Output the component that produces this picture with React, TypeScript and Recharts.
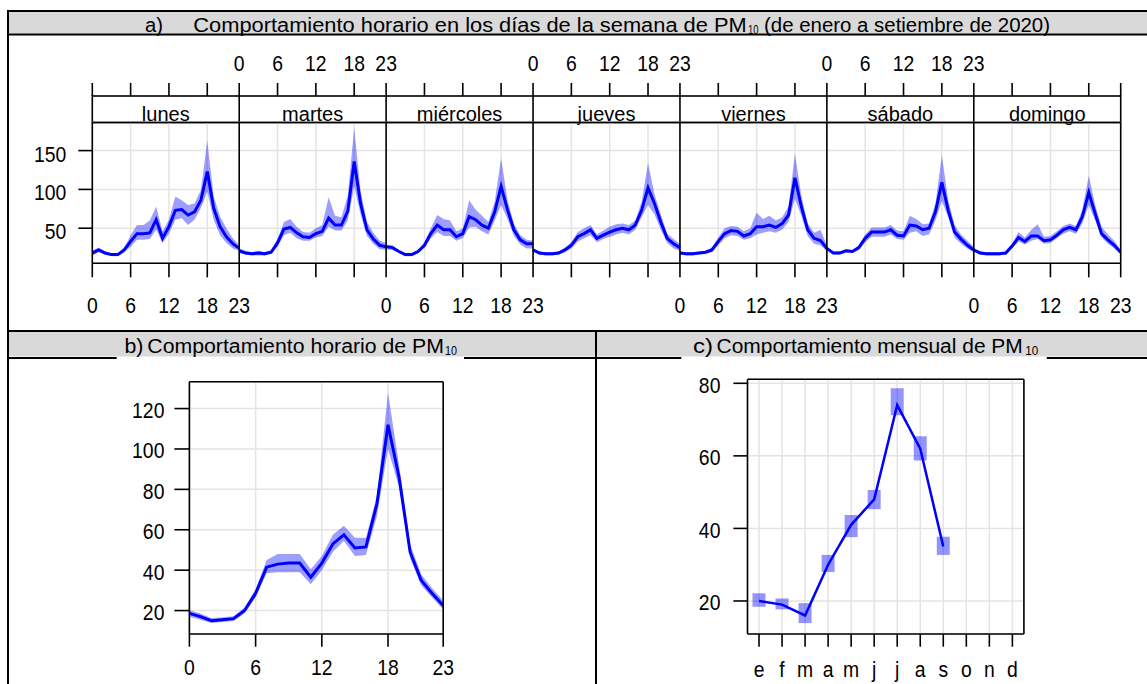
import React from 'react'
import {
  ComposedChart,
  Line,
  Area,
  Bar,
  XAxis,
  YAxis,
  CartesianGrid,
  ReferenceLine,
} from 'recharts'

// PM10 por hora (0-23) para cada día de la semana: media e intervalo de confianza
const DIAS = ['lunes', 'martes', 'miércoles', 'jueves', 'viernes', 'sábado', 'domingo']

const lunesMedia = [18, 22, 18, 16, 16, 22, 33, 43, 43, 44, 61, 37, 52, 73, 74, 67, 71, 86, 123, 76, 52, 39, 30, 24]
const lunesBajo = [15, 19, 16, 14, 14, 19, 26, 35, 35, 36, 48, 31, 43, 61, 63, 54, 61, 76, 97, 61, 41, 31, 24, 21]
const lunesAlto = [21, 25, 20, 18, 18, 25, 41, 54, 54, 60, 78, 46, 61, 91, 86, 80, 82, 99, 163, 91, 65, 50, 37, 28]

const martesMedia = [21, 18, 17, 18, 17, 19, 31, 49, 51, 44, 39, 38, 43, 46, 63, 54, 54, 72, 136, 82, 48, 36, 28, 26]
const martesBajo = [18, 16, 15, 15, 15, 17, 26, 41, 44, 37, 34, 34, 38, 40, 52, 47, 47, 60, 104, 68, 40, 30, 23, 22]
const martesAlto = [24, 21, 19, 21, 19, 22, 36, 58, 62, 52, 45, 44, 50, 54, 90, 66, 64, 92, 179, 98, 58, 44, 34, 31]

const miercolesMedia = [26, 25, 20, 16, 16, 20, 28, 43, 54, 48, 48, 39, 43, 65, 61, 54, 50, 71, 104, 74, 48, 35, 30, 30]
const miercolesBajo = [23, 22, 18, 14, 14, 18, 25, 37, 45, 40, 40, 34, 37, 51, 52, 46, 42, 60, 80, 62, 40, 29, 24, 24]
const miercolesAlto = [29, 28, 22, 18, 18, 22, 32, 50, 67, 62, 60, 46, 50, 86, 74, 66, 58, 84, 140, 86, 56, 41, 35, 34]

const juevesMedia = [22, 18, 17, 17, 18, 22, 28, 39, 43, 48, 37, 41, 45, 48, 50, 48, 54, 73, 102, 82, 58, 37, 30, 25]
const juevesBajo = [20, 16, 15, 15, 16, 19, 24, 33, 37, 41, 32, 36, 39, 42, 44, 42, 48, 64, 80, 68, 48, 31, 24, 21]
const juevesAlto = [24, 20, 19, 19, 20, 25, 32, 45, 50, 54, 42, 47, 52, 55, 56, 54, 60, 84, 134, 94, 68, 43, 36, 30]

const viernesMedia = [18, 17, 17, 18, 19, 22, 33, 43, 47, 46, 40, 43, 52, 52, 54, 51, 56, 67, 115, 78, 48, 37, 34, 24]
const viernesBajo = [16, 15, 15, 16, 17, 19, 28, 37, 41, 40, 35, 37, 42, 44, 46, 44, 48, 58, 88, 66, 40, 30, 28, 20]
const viernesAlto = [20, 19, 19, 20, 21, 25, 38, 50, 53, 52, 46, 50, 70, 62, 66, 60, 64, 78, 146, 92, 56, 44, 48, 28]

const sabadoMedia = [24, 18, 18, 21, 20, 25, 37, 45, 45, 45, 48, 41, 40, 54, 53, 48, 50, 71, 109, 73, 45, 36, 28, 22]
const sabadoBajo = [22, 16, 16, 19, 18, 22, 32, 39, 39, 39, 42, 36, 35, 44, 46, 40, 42, 60, 85, 64, 38, 30, 24, 19]
const sabadoAlto = [26, 20, 20, 23, 22, 28, 42, 51, 51, 51, 54, 47, 46, 66, 62, 55, 56, 82, 144, 86, 54, 42, 34, 26]

const domingoMedia = [22, 18, 17, 17, 17, 18, 27, 38, 33, 40, 40, 34, 35, 41, 48, 51, 48, 65, 96, 69, 43, 35, 28, 19]
const domingoBajo = [20, 16, 15, 15, 15, 16, 24, 33, 29, 34, 36, 30, 31, 37, 43, 46, 43, 56, 80, 60, 38, 30, 24, 16]
const domingoAlto = [24, 20, 19, 19, 19, 20, 30, 45, 38, 48, 55, 39, 40, 46, 53, 56, 53, 74, 118, 80, 52, 42, 34, 22]

// promedio horario de todo el periodo
const horarioMedia = [18.6, 17, 15, 15.5, 16, 20, 28.5, 41.5, 43, 43.5, 43.5, 36.5, 43.5, 53, 57.5, 51, 51.5, 73, 112, 86, 49, 35, 28.5, 22.5]
const horarioBajo = [17, 15.5, 13.8, 14.3, 14.8, 18.5, 26.5, 38.5, 39, 39, 39, 33, 40, 49, 54.5, 47, 47.5, 67, 100, 81, 46, 32.5, 26.5, 20.5]
const horarioAlto = [20.2, 18.5, 16.2, 16.7, 17.2, 21.5, 30.5, 45, 48, 48, 48, 40.5, 47, 57.5, 62, 56, 56, 77, 128, 92, 53, 38, 31, 25]

// promedio mensual (enero a setiembre)
const MESES = ['ene', 'feb', 'mar', 'abr', 'may', 'jun', 'jul', 'ago', 'set', 'oct', 'nov', 'dic']
const MESES_ETIQ = ['e', 'f', 'm', 'a', 'm', 'j', 'j', 'a', 's', 'o', 'n', 'd']
const mensualMedia = [20, 19, 16, 30, 41, 48, 74, 62, 35]
const mensualBajo = [18.4, 17.7, 13.9, 28, 37.6, 45.3, 71.2, 58.7, 32.7]
const mensualAlto = [22.1, 20.7, 19.4, 32.7, 43.7, 50.6, 78.6, 65.4, 37.7]

const HORAS_TICKS = [0, 6, 12, 18, 23]
const TICKS_SEMANA_Y = [50, 100, 150]
const TICKS_HORARIO_Y = [20, 40, 60, 80, 100, 120]
const TICKS_MENSUAL_Y = [20, 40, 60, 80]

const SERIES_DIA = [
  { media: lunesMedia, bajo: lunesBajo, alto: lunesAlto },
  { media: martesMedia, bajo: martesBajo, alto: martesAlto },
  { media: miercolesMedia, bajo: miercolesBajo, alto: miercolesAlto },
  { media: juevesMedia, bajo: juevesBajo, alto: juevesAlto },
  { media: viernesMedia, bajo: viernesBajo, alto: viernesAlto },
  { media: sabadoMedia, bajo: sabadoBajo, alto: sabadoAlto },
  { media: domingoMedia, bajo: domingoBajo, alto: domingoAlto },
]

// los paneles comparten borde: la hora 23 de un día cae en la hora 0 del siguiente
const LARGO = 23
const FIN_SEMANA = DIAS.length * LARGO

const filasSemana: Record<string, any>[] = Array.from({ length: FIN_SEMANA + 1 }, (_, x) => ({ x }))
SERIES_DIA.forEach((s, d) => {
  s.media.forEach((m, h) => {
    const fila = filasSemana[d * LARGO + h]
    fila[`m${d}`] = m
    fila[`ic${d}`] = [s.bajo[h], s.alto[h]]
  })
})

const ticksSemana = Array.from(new Set(DIAS.flatMap((_, d) => HORAS_TICKS.map((t) => d * LARGO + t))))
const divisiones = DIAS.slice(1).map((_, i) => (i + 1) * LARGO)

const filasHorario = horarioMedia.map((m, h) => ({ h, media: m, ic: [horarioBajo[h], horarioAlto[h]] }))

const filasMensual = MESES.map((mes, i) => ({
  mes,
  media: i < mensualMedia.length ? mensualMedia[i] : null,
  ic: i < mensualMedia.length ? [mensualBajo[i], mensualAlto[i]] : null,
}))

const AZUL = '#0000ff'
const FUENTE = { fontFamily: "'Liberation Sans', Arial, Helvetica, sans-serif", fill: '#000' }
const LINEA_EJE = { stroke: '#000', strokeWidth: 1.6 }
const LINEA_TICK = { stroke: '#000', strokeWidth: 1.6 }
const GRIS_GRILLA = '#e4e4e4'

// geometría del panel a
const A_IZQ = 92.3
const A_DER = 1120.7
const A_ARRIBA = 122.5
const A_ABAJO = 263.3
const TIRA_ARRIBA = 96

// números de los ejes: algo más altos y angostos que el texto normal
const Numero = ({ x, y, anchor, children }: { x: number; y: number; anchor: 'start' | 'middle' | 'end'; children: any }) => (
  <text transform={`translate(${x},${y}) scale(0.88,1)`} textAnchor={anchor} fontSize={22} {...FUENTE}>
    {children}
  </text>
)

const horaDeDia = (v: number, dias: number[]) => {
  for (const d of dias) if (v >= d * LARGO && v <= d * LARGO + LARGO) return String(v - d * LARGO)
  return null
}

const TickSemanaAbajo = (p: any) => {
  const txt = horaDeDia(p.payload.value, [0, 2, 4, 6])
  if (txt === null) return <g />
  return (
    <Numero x={p.x} y={313} anchor="middle">
      {txt}
    </Numero>
  )
}

const TickSemanaArriba = (p: any) => {
  const txt = horaDeDia(p.payload.value, [1, 3, 5])
  return (
    <g>
      <line x1={p.x} x2={p.x} y1={TIRA_ARRIBA - 13} y2={TIRA_ARRIBA} {...LINEA_TICK} />
      {txt !== null && (
        <Numero x={p.x} y={70.5} anchor="middle">
          {txt}
        </Numero>
      )}
    </g>
  )
}

const tickY = (dy: number) => (p: any) => (
  <Numero x={p.x} y={p.y + dy} anchor="end">
    {p.payload.value}
  </Numero>
)

const tickAbajo = (base: number, fmt: (v: any) => string) => (p: any) => (
  <Numero x={p.x} y={base} anchor="middle">
    {fmt(p.payload.value)}
  </Numero>
)

const Titulo = ({ x, y, partes }: { x: number; y: number; partes: [string, number, number, number?][] }) => (
  <g>
    {partes.map(([txt, dx, largo, tam], i) => (
      <text
        key={i}
        x={x + dx}
        y={tam ? y + 2 : y}
        fontSize={tam ?? 20}
        textLength={largo}
        lengthAdjust="spacingAndGlyphs"
        {...FUENTE}
      >
        {txt}
      </text>
    ))}
  </g>
)

// marco tipo tabla, encabezados grises y tiras de los días
const Marco = () => {
  const ancho = (A_DER - A_IZQ) / DIAS.length
  return (
    <svg width={1147} height={684} style={{ position: 'absolute', left: 0, top: 0 }}>
      <rect x={9} y={12} width={1140} height={21.5} fill="#d9d9d9" />
      <rect x={9} y={332} width={1140} height={24.5} fill="#d9d9d9" />
      <line x1={7} x2={1147} y1={11} y2={11} stroke="#000" strokeWidth={2} />
      <line x1={7} x2={1147} y1={34.5} y2={34.5} stroke="#000" strokeWidth={2} />
      <line x1={7} x2={1147} y1={331} y2={331} stroke="#000" strokeWidth={2} />
      <line x1={8} x2={116.7} y1={358} y2={358} stroke="#000" strokeWidth={2} />
      <line x1={464} x2={596} y1={358} y2={358} stroke="#000" strokeWidth={2} />
      <line x1={596} x2={681.3} y1={358} y2={358} stroke="#000" strokeWidth={2} />
      <line x1={1046.8} x2={1147} y1={358} y2={358} stroke="#000" strokeWidth={2} />
      <line x1={8} x2={8} y1={10} y2={684} stroke="#000" strokeWidth={2} />
      <line x1={596} x2={596} y1={330} y2={684} stroke="#000" strokeWidth={2} />

      <Titulo
        x={145}
        y={31.5}
        partes={[
          ['a)', 0, 18],
          ['Comportamiento horario en los días de la semana de PM', 48.3, 553.4],
          ['10', 603, 10.5, 12],
          ['(de enero a setiembre de 2020)', 619, 286],
        ]}
      />
      <Titulo
        x={124.4}
        y={353}
        partes={[
          ['b)', 0, 19],
          ['Comportamiento horario de PM', 22.9, 296.7],
          ['10', 320.6, 12, 12],
        ]}
      />
      <Titulo
        x={692.9}
        y={353}
        partes={[
          ['c)', 0, 20],
          ['Comportamiento mensual de PM', 23.6, 306.3],
          ['10', 332.4, 13, 12],
        ]}
      />

      <rect
        x={A_IZQ}
        y={TIRA_ARRIBA}
        width={A_DER - A_IZQ}
        height={A_ARRIBA - TIRA_ARRIBA}
        fill="#fff"
        stroke="#000"
        strokeWidth={1.6}
      />
      {DIAS.map((dia, d) => (
        <g key={dia}>
          {d > 0 && (
            <line
              x1={A_IZQ + d * ancho}
              x2={A_IZQ + d * ancho}
              y1={TIRA_ARRIBA}
              y2={A_ARRIBA}
              stroke="#000"
              strokeWidth={1.6}
            />
          )}
          <text x={A_IZQ + (d + 0.5) * ancho} y={120.5} textAnchor="middle" fontSize={20} {...FUENTE}>
            {dia}
          </text>
        </g>
      ))}
    </svg>
  )
}

const PanelSemana = () => (
  <div style={{ position: 'absolute', left: 0, top: 0 }}>
    <ComposedChart
      width={1147}
      height={330}
      data={filasSemana}
      margin={{ top: A_ARRIBA - 30, right: 1147 - A_DER - 20, bottom: 330 - A_ABAJO - 30, left: A_IZQ - 60 }}
    >
      <CartesianGrid xAxisId="abajo" yAxisId="izq" stroke={GRIS_GRILLA} strokeWidth={1.5} />
      <XAxis
        xAxisId="abajo"
        dataKey="x"
        type="number"
        domain={[0, FIN_SEMANA]}
        ticks={ticksSemana}
        interval={0}
        allowDataOverflow
        tickSize={14}
        tickLine={LINEA_TICK}
        axisLine={LINEA_EJE}
        tick={TickSemanaAbajo}
      />
      <XAxis
        xAxisId="arriba"
        orientation="top"
        dataKey="x"
        type="number"
        domain={[0, FIN_SEMANA]}
        ticks={ticksSemana}
        interval={0}
        allowDataOverflow
        tickLine={false}
        axisLine={LINEA_EJE}
        tick={TickSemanaArriba}
      />
      <YAxis
        yAxisId="izq"
        domain={[4.8, 186.2]}
        ticks={TICKS_SEMANA_Y}
        interval={0}
        allowDataOverflow
        tickSize={14}
        tickMargin={12}
        tickLine={LINEA_TICK}
        axisLine={LINEA_EJE}
        tick={tickY(11)}
      />
      <YAxis
        yAxisId="der"
        orientation="right"
        width={20}
        domain={[4.8, 186.2]}
        ticks={TICKS_SEMANA_Y}
        interval={0}
        allowDataOverflow
        tickSize={12.5}
        tickLine={LINEA_TICK}
        axisLine={LINEA_EJE}
        tick={false}
      />
      {DIAS.map((dia, d) => (
        <Area
          key={`ic-${dia}`}
          xAxisId="abajo"
          yAxisId="izq"
          dataKey={`ic${d}`}
          type="linear"
          stroke="none"
          fill={AZUL}
          fillOpacity={0.38}
          isAnimationActive={false}
        />
      ))}
      {DIAS.map((dia, d) => (
        <Line
          key={`m-${dia}`}
          xAxisId="abajo"
          yAxisId="izq"
          dataKey={`m${d}`}
          type="linear"
          stroke={AZUL}
          strokeWidth={3}
          dot={false}
          activeDot={false}
          isAnimationActive={false}
        />
      ))}
      {divisiones.map((x) => (
        <ReferenceLine key={x} xAxisId="abajo" yAxisId="izq" x={x} stroke="#000" strokeWidth={1.6} />
      ))}
    </ComposedChart>
  </div>
)

const PanelHorario = () => (
  <div style={{ position: 'absolute', left: 0, top: 330 }}>
    <ComposedChart
      width={595}
      height={354}
      data={filasHorario}
      margin={{ top: 21.7, right: 131.8, bottom: 20, left: 129.4 }}
    >
      <CartesianGrid xAxisId="abajo" yAxisId="izq" stroke={GRIS_GRILLA} strokeWidth={1.5} />
      <XAxis
        xAxisId="abajo"
        dataKey="h"
        type="number"
        domain={[0, 23]}
        ticks={HORAS_TICKS}
        interval={0}
        allowDataOverflow
        tickSize={12.7}
        tickLine={LINEA_TICK}
        axisLine={LINEA_EJE}
        tick={tickAbajo(345, String)}
      />
      <XAxis
        xAxisId="arriba"
        orientation="top"
        dataKey="h"
        type="number"
        domain={[0, 23]}
        ticks={HORAS_TICKS}
        interval={0}
        allowDataOverflow
        tickSize={12.4}
        tickLine={LINEA_TICK}
        axisLine={LINEA_EJE}
        tick={false}
      />
      <YAxis
        yAxisId="izq"
        domain={[8.4, 133.3]}
        ticks={TICKS_HORARIO_Y}
        interval={0}
        allowDataOverflow
        tickSize={15}
        tickMargin={10}
        tickLine={LINEA_TICK}
        axisLine={LINEA_EJE}
        tick={tickY(9.5)}
      />
      <YAxis
        yAxisId="der"
        orientation="right"
        width={20}
        domain={[8.4, 133.3]}
        ticks={TICKS_HORARIO_Y}
        interval={0}
        allowDataOverflow
        tickSize={12}
        tickLine={LINEA_TICK}
        axisLine={LINEA_EJE}
        tick={false}
      />
      <Area
        xAxisId="abajo"
        yAxisId="izq"
        dataKey="ic"
        type="linear"
        stroke="none"
        fill={AZUL}
        fillOpacity={0.38}
        isAnimationActive={false}
      />
      <Line
        xAxisId="abajo"
        yAxisId="izq"
        dataKey="media"
        type="linear"
        stroke={AZUL}
        strokeWidth={3}
        dot={false}
        activeDot={false}
        isAnimationActive={false}
      />
    </ComposedChart>
  </div>
)

const PanelMensual = () => (
  <div style={{ position: 'absolute', left: 596, top: 330 }}>
    <ComposedChart
      width={551}
      height={354}
      data={filasMensual}
      margin={{ top: 19.3, right: 103.1, bottom: 20, left: 91.5 }}
    >
      <CartesianGrid xAxisId="abajo" yAxisId="izq" stroke={GRIS_GRILLA} strokeWidth={1.5} />
      <XAxis
        xAxisId="abajo"
        dataKey="mes"
        type="category"
        interval={0}
        tickSize={12.7}
        tickLine={LINEA_TICK}
        axisLine={LINEA_EJE}
        tick={tickAbajo(346.5, (v) => MESES_ETIQ[MESES.indexOf(v)])}
      />
      <XAxis
        xAxisId="arriba"
        orientation="top"
        dataKey="mes"
        type="category"
        interval={0}
        tickSize={14.3}
        tickLine={LINEA_TICK}
        axisLine={LINEA_EJE}
        tick={false}
      />
      <YAxis
        yAxisId="izq"
        domain={[10.9, 81.1]}
        ticks={TICKS_MENSUAL_Y}
        interval={0}
        allowDataOverflow
        tickSize={14.1}
        tickMargin={13}
        tickLine={LINEA_TICK}
        axisLine={LINEA_EJE}
        tick={tickY(9.5)}
      />
      <YAxis
        yAxisId="der"
        orientation="right"
        width={20}
        domain={[10.9, 81.1]}
        ticks={TICKS_MENSUAL_Y}
        interval={0}
        allowDataOverflow
        tickSize={12.3}
        tickLine={LINEA_TICK}
        axisLine={LINEA_EJE}
        tick={false}
      />
      <Bar
        xAxisId="abajo"
        yAxisId="izq"
        dataKey="ic"
        barSize={13}
        fill={AZUL}
        fillOpacity={0.42}
        isAnimationActive={false}
      />
      <Line
        xAxisId="abajo"
        yAxisId="izq"
        dataKey="media"
        type="linear"
        stroke={AZUL}
        strokeWidth={2.5}
        dot={false}
        activeDot={false}
        isAnimationActive={false}
      />
    </ComposedChart>
  </div>
)

export default function App() {
  return (
    <div style={{ position: 'absolute', left: 0, top: 0, width: 1147, height: 684, background: '#fff', overflow: 'hidden' }}>
      <Marco />
      <PanelSemana />
      <PanelHorario />
      <PanelMensual />
    </div>
  )
}
